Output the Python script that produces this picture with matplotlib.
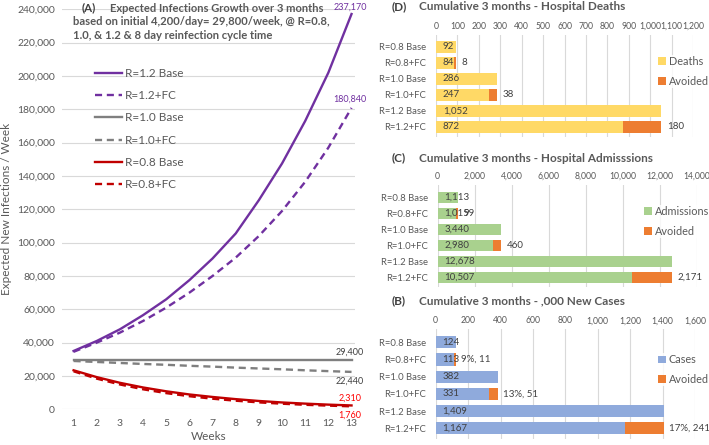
import matplotlib.pyplot as plt
from matplotlib.ticker import FuncFormatter

plt.rcParams['font.family'] = ['Lato', 'DejaVu Sans']

# weekly expected new infections
weeks = list(range(1, 14))
r12_base = [35000, 41000, 48000, 56500, 66000, 77500, 90500, 105500, 125500, 147500, 173000, 202000, 237170]
r12_fc = [34500, 40000, 46000, 53000, 61000, 70000, 80000, 91000, 104000, 119000, 136500, 157000, 180840]
r10_base = [29400] * 13
r10_fc = [29000, 28400, 27800, 27200, 26700, 26100, 25600, 25000, 24500, 24000, 23400, 22900, 22440]
r08_base = [23400, 19300, 15900, 13100, 10800, 8900, 7400, 6100, 5000, 4100, 3400, 2800, 2310]
r08_fc = [22800, 18400, 14900, 12000, 9700, 7850, 6350, 5150, 4150, 3350, 2700, 2200, 1760]

# cumulative 3-month totals, panels (B)-(D)
scenarios = ['R=0.8 Base', 'R=0.8+FC', 'R=1.0 Base', 'R=1.0+FC', 'R=1.2 Base', 'R=1.2+FC']
deaths = [92, 84, 286, 247, 1052, 872]
deaths_avoided = [0, 8, 0, 38, 0, 180]
admissions = [1113, 1015, 3440, 2980, 12678, 10507]
admissions_avoided = [0, 99, 0, 460, 0, 2171]
cases = [124, 113, 382, 331, 1409, 1167]
cases_avoided = [0, 11, 0, 51, 0, 241]
cases_avoided_pct = ['', '9%', '', '13%', '', '17%']

W, H = 709, 445
fig = plt.figure(figsize=(W / 100, H / 100), dpi=100)
TXT = '#595959'
DARK = '#404040'
GRID = '#d9d9d9'
ORANGE = '#ed7d31'


def fig_rect(x0, y0, x1, y1):
    # pixel box (top-left origin) -> figure fraction rect
    return [x0 / W, 1 - y1 / H, (x1 - x0) / W, (y1 - y0) / H]


comma = FuncFormatter(lambda v, p: f'{v:,.0f}')

# ---- panel (A): line chart ----
ax = fig.add_axes(fig_rect(62, 9.3, 355, 409.3))
ax.plot(weeks, r12_base, color='#7030a0', lw=1.7, label='R=1.2 Base')
ax.plot(weeks, r12_fc, color='#7030a0', lw=1.7, ls=(0, (3, 2)), label='R=1.2+FC')
ax.plot(weeks, r10_base, color='#7f7f7f', lw=1.7, label='R=1.0 Base')
ax.plot(weeks, r10_fc, color='#7f7f7f', lw=1.7, ls=(0, (3, 2)), label='R=1.0+FC')
ax.plot(weeks, r08_base, color='#c00000', lw=1.7, label='R=0.8 Base')
ax.plot(weeks, r08_fc, color='#c00000', lw=1.7, ls=(0, (3, 2)), label='R=0.8+FC')
ax.set_xlim(0.5, 13.15)
ax.set_ylim(0, 240000)
ax.set_yticks(range(0, 240001, 20000))
ax.set_xticks(weeks)
ax.yaxis.set_major_formatter(comma)
ax.grid(axis='y', color=GRID, lw=0.8)
ax.set_axisbelow(True)
for s in ax.spines.values():
    s.set_visible(False)
ax.tick_params(length=0, labelsize=7.5, colors=TXT, pad=5)
ax.tick_params(axis='x', pad=7)
ax.set_xlabel('Weeks', fontsize=8.5, color=TXT, labelpad=2)
ax.set_ylabel('Expected New Infections / Week', fontsize=8.5, color=TXT, labelpad=4)
ax.legend(loc='upper left', bbox_to_anchor=(95 / W, 1 - 68 / H), bbox_transform=fig.transFigure,
          frameon=False, fontsize=8.5, labelcolor=TXT, handlelength=2.3, labelspacing=0.95,
          handletextpad=0.2, borderpad=0, borderaxespad=0)

end_labels = [(r12_base[-1], '#7030a0', 5), (r12_fc[-1], '#7030a0', 6),
              (r10_base[-1], DARK, 6), (r10_fc[-1], DARK, -7),
              (r08_base[-1], '#ff0000', 5), (r08_fc[-1], '#ff0000', -6)]
for v, c, dy in end_labels:
    ax.annotate(f'{v:,}', (weeks[-1], v), xytext=(-1, dy), textcoords='offset points',
                ha='center', va='center', fontsize=6.5, color=c, annotation_clip=False)

fig.text(82 / W, 1 - 8 / H, '(A)', fontsize=8.3, weight='bold', color=DARK, va='center')
fig.text(110 / W, 1 - 8 / H, 'Expected Infections Growth over 3 months',
         fontsize=8.0, weight='bold', color=TXT, va='center')
fig.text(73 / W, 1 - 21.5 / H, 'based on initial 4,200/day= 29,800/week, @ R=0.8,',
         fontsize=8.1, weight='bold', color=TXT, va='center')
fig.text(73 / W, 1 - 35.5 / H, '1.0, & 1.2 & 8 day reinfection cycle time',
         fontsize=8.1, weight='bold', color=TXT, va='center')


# ---- panels (B)-(D): stacked bars ----
def bar_panel(box, values, avoided, avoided_txt, xmax, step, color, name, letter, title, title_y, leg_xy):
    bx = fig.add_axes(fig_rect(*box))
    y = list(range(len(scenarios)))
    bx.barh(y, values, height=0.72, color=color, label=name)
    bx.barh(y, avoided, left=values, height=0.72, color=ORANGE, label='Avoided')
    bx.set_ylim(5.6, -0.75)
    bx.set_xlim(0, xmax)
    bx.set_xticks(range(0, xmax + 1, step))
    bx.xaxis.set_major_formatter(comma)
    bx.xaxis.tick_top()
    bx.set_yticks(y)
    bx.set_yticklabels(scenarios)
    bx.grid(axis='x', color=GRID, lw=0.8)
    bx.set_axisbelow(True)
    for s in bx.spines.values():
        s.set_visible(False)
    bx.tick_params(length=0, labelsize=6.8, colors=TXT)
    bx.tick_params(axis='x', labelsize=6.2, pad=3)
    bx.tick_params(axis='y', pad=7)
    for i in y:
        bx.annotate(f'{values[i]:,}', (0, i), xytext=(5, 0), textcoords='offset points',
                    ha='left', va='center', fontsize=7, color=DARK)
        if avoided[i]:
            bx.annotate(avoided_txt[i], (values[i] + avoided[i], i), xytext=(4, 0),
                        textcoords='offset points', ha='left', va='center', fontsize=7, color=DARK)
    leg = bx.legend(loc='upper left', bbox_to_anchor=(leg_xy[0] / W, 1 - leg_xy[1] / H),
                    bbox_transform=fig.transFigure, fontsize=7.8, labelcolor=TXT,
                    handlelength=0.7, handleheight=0.7, handletextpad=0.3, labelspacing=0.8,
                    borderpad=0.1, borderaxespad=0, frameon=True, fancybox=False)
    leg.get_frame().set_facecolor('white')
    leg.get_frame().set_edgecolor('none')
    fig.text(392 / W, 1 - title_y / H, letter, fontsize=8.5, weight='bold', color=DARK, va='center')
    fig.text(419 / W, 1 - title_y / H, title, fontsize=8.5, weight='bold', color=TXT, va='center')


bar_panel((436, 34.7, 693, 136.6), deaths, deaths_avoided,
          [f'{a}' for a in deaths_avoided], 1200, 100, '#ffd966', 'Deaths',
          '(D)', 'Cumulative 3 months - Hospital Deaths', 7, (657, 55))
bar_panel((437.7, 185.3, 696.7, 286.9), admissions, admissions_avoided,
          [f'{a:,}' for a in admissions_avoided], 14000, 2000, '#a9d18e', 'Admissions',
          '(C)', 'Cumulative 3 months - Hospital Admisssions', 158, (643, 205))
bar_panel((435.7, 329.4, 695, 438.6), cases, cases_avoided,
          [f'{p}, {a}' for p, a in zip(cases_avoided_pct, cases_avoided)], 1600, 200, '#8faadc', 'Cases',
          '(B)', 'Cumulative 3 months - ,000 New Cases', 301, (657, 353))

fig.savefig('out.png', dpi=100)
